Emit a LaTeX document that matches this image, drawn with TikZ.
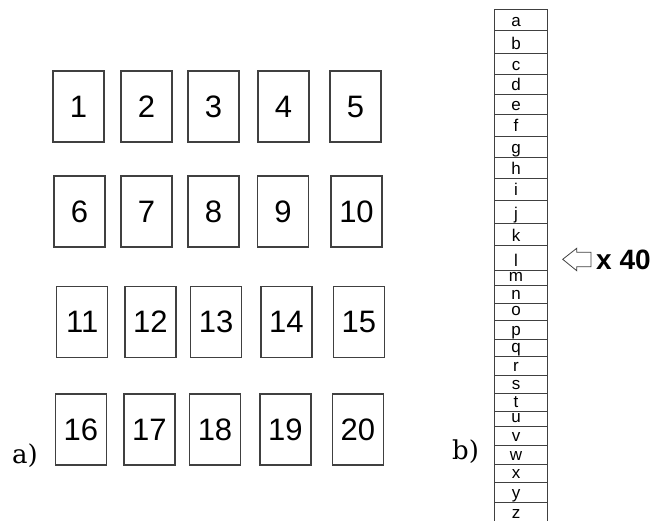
\documentclass[tikz,border=0pt]{standalone}
\usepackage{fontspec}
\newfontfamily\arial{Liberation Sans}
\newfontfamily\labelserif{DejaVu Serif}
\usetikzlibrary{positioning}

\begin{document}
\begin{tikzpicture}[x=1pt, y=-1pt,
    page/.style={draw=black!75, line width=1.2pt, minimum width=51pt, minimum height=71pt,
      inner sep=0pt, font=\arial\fontsize{31}{31}\selectfont},
    cell/.style={draw=black!75, line width=0.9pt, minimum width=53pt, inner sep=0pt},
    letter/.style={font=\arial\fontsize{17}{17}\selectfont, inner sep=0pt},
    part/.style={font=\labelserif\fontsize{26}{26}\selectfont, inner sep=0pt}]
    \useasboundingbox (0,0) rectangle (669,521);

    % a) the twenty pages
    \foreach \n/\x/\y in {1/78.5/106.5, 2/146.5/106.5, 3/213.5/106.5, 4/283.5/106.5, 5/355.5/106.5,
        6/79.5/211.5, 7/146.5/211.5, 8/213.5/211.5, 9/283/211.5, 10/356.5/211.5,
        11/82.2/322, 12/150.4/322, 13/216.2/322, 14/286.4/322, 15/358.8/322,
        16/80.9/429.5, 17/149.4/429.5, 18/215/429.5, 19/285.4/429.5, 20/357.8/429.5}
        \node[page] (p\n) at (\x,\y) {\n};
    \node[part, anchor=base west] (parta) at (12,463) {a)};

    % b) the stack of pages
    \foreach \l/\t/\b in {a/9.3/30.7, b/30.7/53.3, c/53.3/74.3, d/74.3/94.3, e/94.3/114.3,
        f/114.3/136, g/136/157.3, h/157.3/178.3, i/178.3/200, j/200/223.3, k/223.3/245.7,
        l/245.7/270, m/270/285, n/285/303.3, o/303.3/320, p/320/339.3, q/339.3/356.7,
        r/356.7/375, s/375/393.3, t/393.3/411.7, u/411.7/426.7, v/426.7/445, w/445/464,
        x/464/482.7, y/482.7/502.7, z/502.7/524}
    {
        \pgfmathsetmacro\h{\b-\t}
        \pgfmathsetmacro\c{(\t+\b)/2}
        \pgfmathsetmacro\bl{min(\b,522)-4}
        \node[cell, minimum height=\h pt] (cell\l) at (520.5,\c) {};
        \node[letter, anchor=base] (txt\l) at (516,\bl) {\l};
    }
    \node[part, anchor=base west] (partb) at (452,459) {b)};

    % arrow and count
    \draw[black!75, line width=0.8pt, line join=miter]
        (562.7,259.3) -- (576.7,248.3) -- (576.7,252.3) -- (591,252.3)
        -- (591,266.7) -- (576.7,266.7) -- (576.7,270.7) -- cycle;
    \node[font=\arial\bfseries\fontsize{28}{28}\selectfont, anchor=west, inner sep=0pt]
        (times) at (596,260) {x 40};
\end{tikzpicture}
\end{document}
